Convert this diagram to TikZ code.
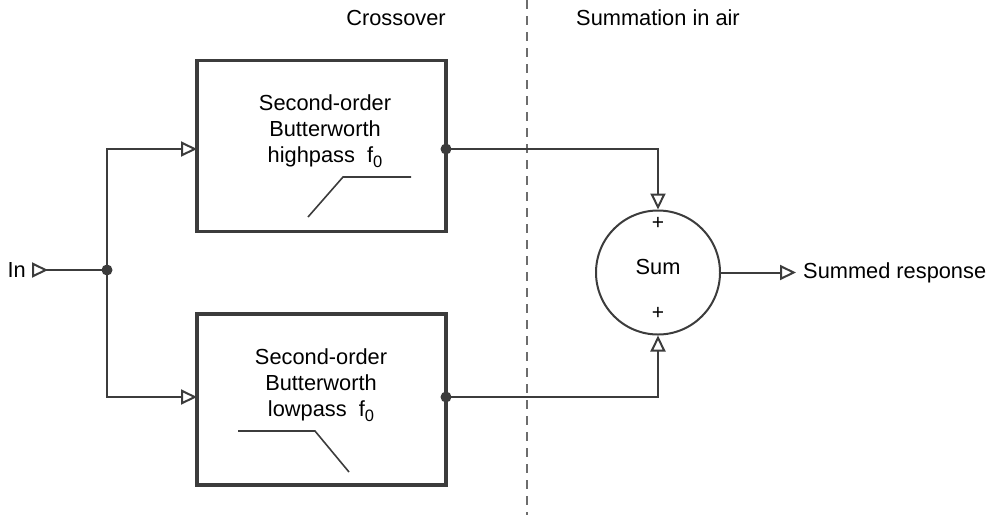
\documentclass[tikz,border=0pt]{standalone}
\usepackage{fontspec}
\setmainfont{Liberation Sans}
\usetikzlibrary{arrows.meta}
\definecolor{wire}{HTML}{3C3C3C}
\newcommand{\fsub}[1]{\raisebox{-0.45ex}{\fontsize{16.5}{18}\selectfont #1}}
\tikzset{
  txt/.style={font=\fontsize{21.8}{26}\selectfont, text=black, inner sep=0pt, align=center},
  filt/.style={draw=wire, line width=3.2pt, minimum width=249pt, minimum height=171pt, inner sep=0pt},
  wireln/.style={draw=wire, line width=2pt},
  tip/.style={-{Triangle[open, length=16pt, width=15pt, line width=2pt]}},
  tipin/.style={{Triangle[open, reversed, length=16pt, width=15pt, line width=2pt]}-},
  junct/.style={circle, fill=wire, inner sep=0pt, minimum size=11pt},
  sumc/.style={circle, draw=wire, line width=2pt, minimum size=124pt, inner sep=0pt},
}
\begin{document}
\begin{tikzpicture}[x=1pt, y=-1pt]
\useasboundingbox (0,0) rectangle (987,515);
% dashed divider
\coordinate (dtop) at (527,0);
\coordinate (dbot) at (527,515);
\draw[draw=wire!75, line width=1.8pt, dash pattern=on 9pt off 7pt] (dtop) -- (dbot);
% headings
\node[txt] (hcross) at (396,18) {Crossover};
\node[txt] (hsum) at (658,18) {Summation in air};
% filter boxes
\node[filt] (hp) at (321.5,146) {};
\node[filt] (lp) at (321.5,399.5) {};
\node[txt] (hptext) at (325,131) {Second-order\\Butterworth\\highpass\ \ f\fsub{0}};
\node[txt] (lptext) at (321,385) {Second-order\\Butterworth\\lowpass\ \ f\fsub{0}};
% response sketches
\coordinate (h1) at (308,217); \coordinate (h2) at (343,177); \coordinate (h3) at (411,177);
\draw[wire, line width=1.6pt] (h1) -- (h2) -- (h3);
\coordinate (l1) at (238,431); \coordinate (l2) at (315,431); \coordinate (l3) at (349,472);
\draw[wire, line width=1.6pt] (l1) -- (l2) -- (l3);
% input
\node[txt, anchor=east] (in) at (26,270) {In};
\coordinate (inarrow) at (32,270);
\node[junct] (j) at (107,270) {};
\coordinate (hpin) at (197,149);
\coordinate (lpin) at (197,397);
\draw[wireln, tipin] (inarrow) -- (j.center);
\draw[wireln, tip] (j.center) |- (hpin);
\draw[wireln, tip] (j.center) |- (lpin);
% outputs
\node[junct] (hpout) at (446,149) {};
\node[junct] (lpout) at (446,397) {};
\node[sumc] (sum) at (658,272.5) {};
\node[txt] (sumtxt) at (658,267) {Sum};
\node[txt, font=\fontsize{21}{22}\selectfont] (plus1) at (658,223) {+};
\node[txt, font=\fontsize{21}{22}\selectfont] (plus2) at (658,313) {+};
\draw[wireln, tip] (hpout.center) -| (sum.north);
\draw[wireln, tip] (lpout.center) -| (sum.south);
\coordinate (outtip) at (796,272.5);
\draw[wireln, tip] (sum.east) -- (outtip);
\node[txt, anchor=west] (outtxt) at (803,272.5) {Summed response};
\end{tikzpicture}
\end{document}
